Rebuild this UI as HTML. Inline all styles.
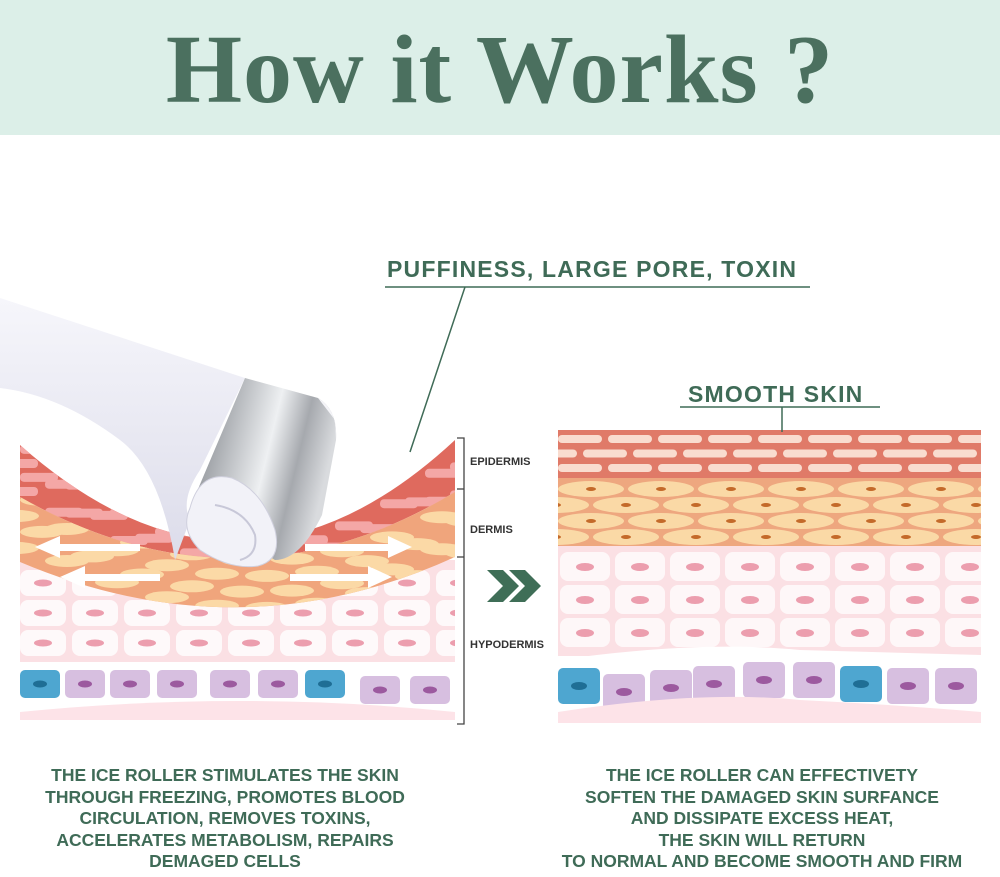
<!DOCTYPE html>
<html><head><meta charset="utf-8"><style>
html,body{margin:0;padding:0;background:#fff}
body{width:1000px;height:877px;position:relative;overflow:hidden;font-family:"Liberation Sans",sans-serif}
.hdr{position:absolute;left:0;top:0;width:1000px;height:135px;background:#dcefe8}
.title{position:absolute;left:0;width:1000px;top:14px;text-align:center;font-family:"Liberation Serif",serif;font-weight:bold;font-size:98px;color:#4b705f;letter-spacing:1px}
.t{position:absolute;color:#3f6b57;font-weight:bold;white-space:nowrap}
.cap{position:absolute;text-align:center;color:#3f6b57;font-weight:bold;font-size:17.5px;line-height:21.6px;white-space:nowrap}
.lbl{position:absolute;font-size:11px;font-weight:bold;color:#333}
</style></head><body>
<div class="hdr"></div>
<div class="title">How it Works ?</div>
<svg width="1000" height="877" style="position:absolute;left:0;top:0">
<defs>
<linearGradient id="silv" x1="0" y1="0" x2="1" y2="0.3">
<stop offset="0" stop-color="#6e7278"/><stop offset="0.35" stop-color="#b9bcc0"/><stop offset="0.6" stop-color="#eef0f2"/><stop offset="0.8" stop-color="#a6a9ae"/><stop offset="1" stop-color="#d9dbde"/></linearGradient>
<linearGradient id="hand" x1="0" y1="0" x2="0" y2="1"><stop offset="0" stop-color="#f6f6fb"/><stop offset="1" stop-color="#dcdcea"/></linearGradient>
<clipPath id="Lepi"><path d="M20,445 Q240,640 455,440 L455,492 Q240,622 20,497Z"/></clipPath>
<clipPath id="Lder"><path d="M20,497 Q240,622 455,492 L455,557 Q240,655 20,562Z"/></clipPath>
<clipPath id="Lhyp"><path d="M20,562 Q240,655 455,557 L455,665 L20,665Z"/></clipPath>
<clipPath id="Rall"><rect x="558" y="430" width="423" height="295"/></clipPath>
<clipPath id="Lall"><rect x="20" y="430" width="435" height="295"/></clipPath>
</defs>
<g clip-path="url(#Rall)">
<rect x="558" y="430" width="423" height="48" fill="#e07a68"/>
<g id="bricks"></g>
<rect x="558" y="478" width="423" height="68" fill="#eea77f"/>
<g id="fat"></g>
<rect x="558" y="546" width="423" height="110" fill="#fbe0e4"/>
<g id="hyp"></g>
<path d="M558,660 Q700,640 800,650 L981,655 L981,725 L558,725Z" fill="#fff"/>
<g id="bas"></g>
<path d="M558,712 Q700,690 800,700 Q900,705 981,712 L981,723 L558,723Z" fill="#fde3e8"/>
</g>
<g clip-path="url(#Lall)">
<rect x="20" y="560" width="435" height="105" fill="#fbe0e4"/>
<g clip-path="url(#Lhyp)" id="lhyp"></g>
<path d="M20,445 Q240,640 455,440 L455,492 Q240,622 20,497Z" fill="#df6a5e"/>
<g clip-path="url(#Lepi)" id="lepi"></g>
<path d="M20,497 Q240,622 455,492 L455,557 Q240,655 20,562Z" fill="#f0a57c"/>
<g clip-path="url(#Lder)" id="lder"></g>
<rect x="20" y="662" width="435" height="60" fill="#fff"/>
<g id="lbas"></g>
<path d="M20,712 Q240,690 455,712 L455,720 L20,720Z" fill="#fde3e8"/>
</g>
<g fill="#fff">
<rect x="55" y="544" width="85" height="7"/><polygon points="35,547 60,536 60,558"/>
<rect x="80" y="574" width="80" height="7"/><polygon points="60,577 85,566 85,588"/>
<rect x="305" y="544" width="85" height="7"/><polygon points="412,547 388,536 388,558"/>
<rect x="290" y="574" width="80" height="7"/><polygon points="392,577 368,566 368,588"/>
</g>
<path d="M0,298 L245,378 L200,470 Q180,500 190,520 L175,560 Q160,470 120,440 Q60,395 0,388Z" fill="url(#hand)"/>
<path d="M245,378 L318,398 Q338,410 336,440 L322,515 Q300,560 275,560 L190,508 Z" fill="url(#silv)"/>
<path d="M336,440 Q338,410 318,398 L335,420 Z" fill="#f4f4f8"/>
<path d="M190,508 Q200,470 232,478 Q262,490 275,530 Q282,560 258,566 Q230,570 200,550 Q180,530 190,508Z" fill="#f2f2f8" stroke="#d0d0de" stroke-width="1"/>
<path d="M215,505 Q245,510 255,535 Q258,555 240,560" fill="none" stroke="#c8c8d8" stroke-width="2"/>
<g stroke="#444" stroke-width="1.3" fill="none">
<path d="M457,438 H464 V724 H457"/><path d="M457,489 H464"/><path d="M457,557 H464"/>
</g>
<g stroke="#3f6b57" stroke-width="1.5" fill="none">
<path d="M385,287 H810"/><path d="M465,287 L410,452"/>
<path d="M680,407 H880"/><path d="M782,407 V432"/>
</g>
<g fill="#3f6e57">
<polygon points="487,570 503,570 519,586 503,602 487,602 503,586"/>
<polygon points="509,570 525,570 541,586 525,602 509,602 525,586"/>
</g>
</svg>
<div class="t" style="left:387px;top:256px;font-size:23px;letter-spacing:1.2px">PUFFINESS, LARGE PORE, TOXIN</div>
<div class="t" style="left:688px;top:381px;font-size:23px;letter-spacing:1.2px">SMOOTH SKIN</div>
<div class="lbl" style="left:470px;top:456px">EPIDERMIS</div>
<div class="lbl" style="left:470px;top:524px">DERMIS</div>
<div class="lbl" style="left:470px;top:639px">HYPODERMIS</div>
<div class="cap" style="left:0;width:450px;top:765px">THE ICE ROLLER STIMULATES THE SKIN<br>THROUGH FREEZING, PROMOTES BLOOD<br>CIRCULATION, REMOVES TOXINS,<br>ACCELERATES METABOLISM, REPAIRS<br>DEMAGED CELLS</div>
<div class="cap" style="left:512px;width:500px;top:765px">THE ICE ROLLER CAN EFFECTIVETY<br>SOFTEN THE DAMAGED SKIN SURFANCE<br>AND DISSIPATE EXCESS HEAT,<br>THE SKIN WILL RETURN<br>TO NORMAL AND BECOME SMOOTH AND FIRM</div>
<script>
var NS="http://www.w3.org/2000/svg";
function el(p,t,a){var e=document.createElementNS(NS,t);for(var k in a)e.setAttribute(k,a[k]);document.getElementById(p).appendChild(e);return e;}
for(var r=0;r<3;r++){var y=435+r*14.5;for(var x=558-(r%2)*25;x<985;x+=50){el("bricks","rect",{x:x,y:y,width:44,height:8,rx:4,fill:"#f9dccf"});}}
for(var r=0;r<4;r++){var y=482+r*16;for(var x=558-(r%2)*35;x<985;x+=70){el("fat","ellipse",{cx:x+33,cy:y+7,rx:33,ry:8,fill:"#fad9a6"});el("fat","ellipse",{cx:x+33,cy:y+7,rx:5,ry:2,fill:"#c46a2a"});}}
for(var r=0;r<3;r++){var y=552+r*33;for(var x=560;x<985;x+=55){el("hyp","rect",{x:x,y:y,width:50,height:29,rx:8,fill:"#fff","fill-opacity":0.75});el("hyp","ellipse",{cx:x+25,cy:y+15,rx:9,ry:4,fill:"#ec9eae"});}}
var bx=[[558,"#4ea6d0"],[603,"#d7bfe0"],[650,"#d7bfe0"],[693,"#d7bfe0"],[743,"#d7bfe0"],[793,"#d7bfe0"],[840,"#4ea6d0"],[887,"#d7bfe0"],[935,"#d7bfe0"]];
bx.forEach(function(b,i){var y=(i>=1&&i<=6)?660+Math.abs(i-4.5)*4:668;el("bas","rect",{x:b[0],y:y,width:42,height:36,rx:5,fill:b[1]});el("bas","ellipse",{cx:b[0]+21,cy:y+18,rx:8,ry:4,fill:b[1]=="#4ea6d0"?"#1f6e95":"#9c5a9f"});});
for(var r=0;r<4;r++){for(var x=20-(r%2)*20;x<460;x+=45){var yc=445+r*14+((x-237)*(x-237)<48000?(1-(x-237)*(x-237)/47000)*96:0);el("lepi","rect",{x:x,y:yc,width:38,height:9,rx:4,fill:"#f4a7a6"});}}
for(var r=0;r<4;r++){for(var x=20-(r%2)*25;x<460;x+=50){var yc=500+r*16+((x-237)*(x-237)<48000?(1-(x-237)*(x-237)/47000)*60:0);el("lder","ellipse",{cx:x+22,cy:yc,rx:22,ry:6,fill:"#fbd9a6"});}}
for(var r=0;r<3;r++){for(var x=20;x<460;x+=52){var yc=570+r*30;el("lhyp","rect",{x:x,y:yc,width:46,height:26,rx:8,fill:"#fff","fill-opacity":0.8});el("lhyp","ellipse",{cx:x+23,cy:yc+13,rx:9,ry:3.5,fill:"#ec9eae"});}}
var lb=[[20,"#4ea6d0"],[65,"#d7bfe0"],[110,"#d7bfe0"],[157,"#d7bfe0"],[210,"#d7bfe0"],[258,"#d7bfe0"],[305,"#4ea6d0"],[360,"#d7bfe0"],[410,"#d7bfe0"]];
lb.forEach(function(b,i){var y=670+(i==7||i==8?6:0);el("lbas","rect",{x:b[0],y:y,width:40,height:28,rx:5,fill:b[1]});el("lbas","ellipse",{cx:b[0]+20,cy:y+14,rx:7,ry:3.5,fill:b[1]=="#4ea6d0"?"#1f6e95":"#9c5a9f"});});
</script>
</body></html>
